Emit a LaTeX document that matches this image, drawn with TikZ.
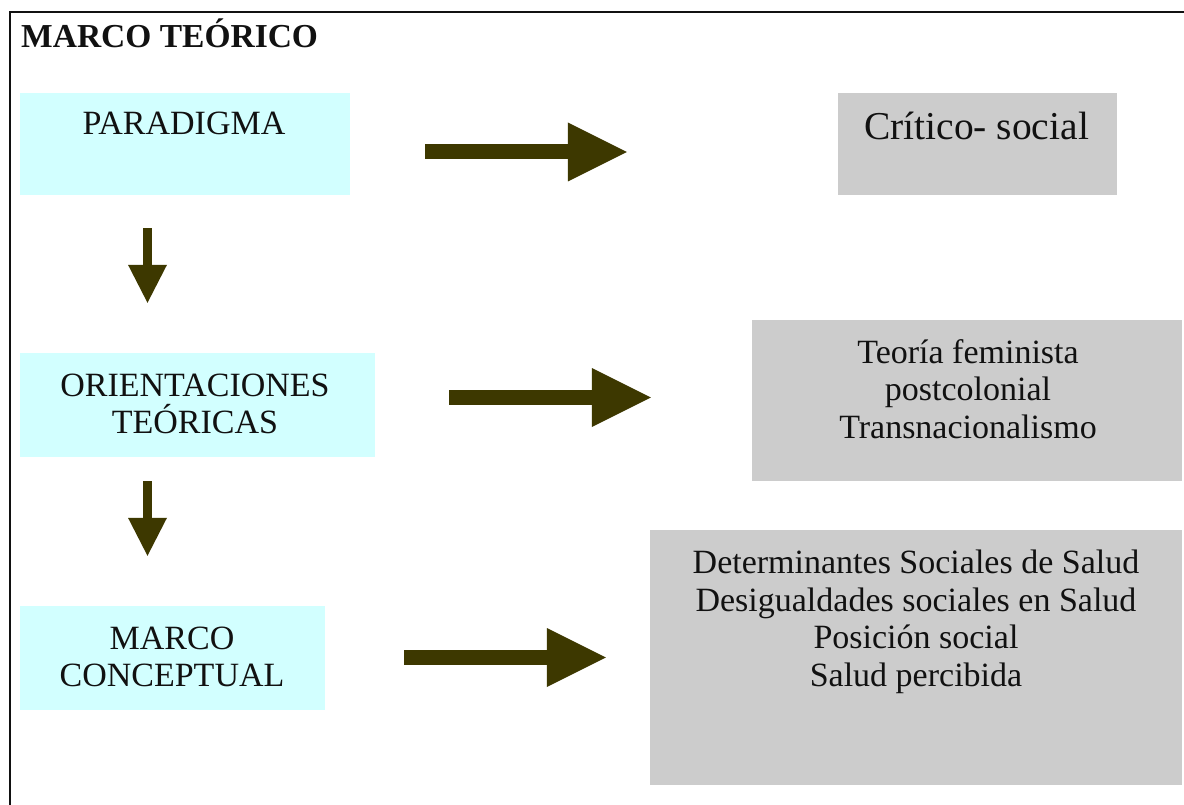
\documentclass[tikz,border=0pt]{standalone}
\usepackage{fontspec}
\setmainfont{Liberation Serif}
\usetikzlibrary{arrows.meta}
\definecolor{cyanfill}{HTML}{D2FFFF}
\definecolor{grayfill}{HTML}{CCCCCC}
\definecolor{arrowcol}{HTML}{3D3800}
\definecolor{ink}{HTML}{111111}
\tikzset{
  cyanbox/.style={fill=cyanfill, draw=none, inner sep=0pt},
  graybox/.style={fill=grayfill, draw=none, inner sep=0pt},
  boxtext/.style={inner sep=0pt, text=ink, align=center, font=\fontsize{34}{37.5}\selectfont},
  bigarrow/.style={draw=arrowcol, line width=15pt, line cap=butt,
    -{Triangle[length=59pt,width=59pt,line width=0pt,fill=arrowcol]}},
  smallarrow/.style={draw=arrowcol, line width=9pt, line cap=butt,
    -{Triangle[length=38pt,width=39pt,line width=0pt,fill=arrowcol]}},
}
\begin{document}
\begin{tikzpicture}[x=1pt,y=-1pt]
\useasboundingbox (0,0) rectangle (1184,805);
\fill[white] (0,0) rectangle (1184,805);
% frame
\draw[line width=2pt, draw=ink] (1184,12.5) -- (10,12.5) -- (10,805);
% title
\node[anchor=base west, inner sep=0pt, text=ink, font=\bfseries\fontsize{33.5}{38}\selectfont] (title) at (21,48) {MARCO TEÓRICO};
% left boxes
\node[cyanbox, minimum width=330pt, minimum height=102pt] (P) at (185,144) {};
\node[cyanbox, minimum width=355pt, minimum height=104pt] (O) at (197.5,405) {};
\node[cyanbox, minimum width=305pt, minimum height=104pt] (M) at (172.5,658) {};
% right boxes
\node[graybox, minimum width=279pt, minimum height=102pt] (C) at (977.5,144) {};
\node[graybox, minimum width=430pt, minimum height=161pt] (T) at (967,400.5) {};
\node[graybox, minimum width=532pt, minimum height=255pt] (D) at (916,657.5) {};
% texts
\node[boxtext, anchor=base] (Ptxt) at (184,135) {PARADIGMA};
\node[boxtext] (Otxt) at (195,404) {ORIENTACIONES\\TEÓRICAS};
\node[boxtext] (Mtxt) at (172,657) {MARCO\\CONCEPTUAL};
\node[boxtext, anchor=base, font=\fontsize{39.5}{44}\selectfont] (Ctxt) at (976.5,140) {Crítico- social};
\node[boxtext] (Ttxt) at (968,389) {Teoría feminista\\postcolonial\\Transnacionalismo};
\node[boxtext] (Dtxt) at (916,622) {Determinantes Sociales de Salud\\Desigualdades sociales en Salud\\Posición social\\Salud percibida};
% horizontal arrows
\draw[bigarrow] ([shift={(75,8)}]P.east) -- ([shift={(-211,8)}]C.west);
\draw[bigarrow] ([shift={(74,-7.5)}]O.east) -- ([shift={(-101,-3)}]T.west);
\draw[bigarrow] ([shift={(79,-0.5)}]M.east) -- ([shift={(-44,0)}]D.west);
% vertical arrows
\draw[smallarrow] ([shift={(-37.5,33)}]P.south) -- ([shift={(-50,-50)}]O.north);
\draw[smallarrow] ([shift={(-50,24)}]O.south) -- ([shift={(-25,-50)}]M.north);
\end{tikzpicture}
\end{document}
